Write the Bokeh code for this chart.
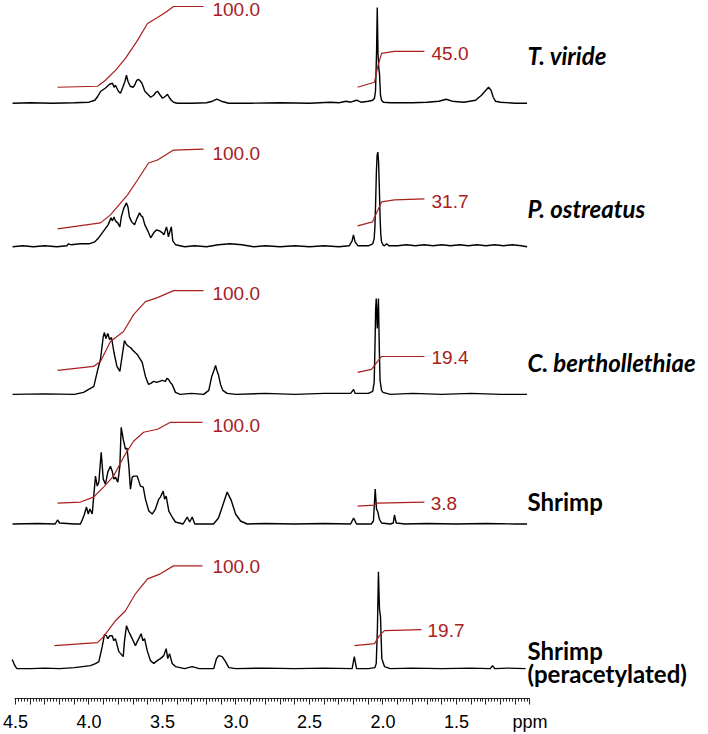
from bokeh.plotting import figure
from bokeh.models import Range1d, FixedTicker
from bokeh.core.properties import value
from bokeh.embed import file_html
from bokeh.resources import INLINE

# ---------------- data ----------------
# chemical shift (ppm) and signal height above each trace's baseline
tv_ppm = [4.52, 4.40, 4.25, 4.10, 4.00, 3.96, 3.94, 3.92, 3.89, 3.86, 3.84, 3.83, 3.82, 3.80, 3.786,
          3.77, 3.755, 3.745, 3.735, 3.72, 3.70, 3.69, 3.675, 3.663, 3.65, 3.64, 3.62, 3.60, 3.58,
          3.56, 3.545, 3.534, 3.52, 3.50, 3.48, 3.466, 3.455, 3.44, 3.425, 3.40, 3.30, 3.20, 3.16,
          3.13, 3.10, 3.05, 2.90, 2.70, 2.50, 2.36, 2.30, 2.25, 2.22, 2.18, 2.15, 2.10, 2.07, 2.058,
          2.051, 2.044, 2.039, 2.034, 2.029, 2.024, 2.017, 2.01, 1.997, 1.95, 1.80, 1.70, 1.62, 1.57,
          1.53, 1.45, 1.37, 1.33, 1.30, 1.282, 1.265, 1.25, 1.235, 1.20, 1.10, 1.02]
tv_int = [0, 0.5, 0, 0.5, 1, 3, 7, 12, 15, 19, 20, 16, 18, 12, 10,
          16, 22, 28, 22, 17, 16, 18, 23, 24, 22, 20, 12, 9, 6,
          8, 11, 12, 9, 5, 7, 9, 6, 3, 1, 0, 0, 0.5, 2,
          4, 2, 0, 0, 0.5, 0, 1, 0.5, 2, 1, 3, 1, 2, 3, 5,
          12, 50, 96, 50, 36, 30, 8, 3, 1, 0.5, 0.5, 1, 2, 4,
          2, 1, 3, 8, 13, 16, 13, 6, 2, 1, 0, 0]

po_ppm = [4.52, 4.45, 4.38, 4.30, 4.22, 4.15, 4.139, 4.12, 4.06, 4.00, 3.96, 3.94, 3.92, 3.90,
          3.87, 3.85, 3.84, 3.83, 3.82, 3.805, 3.79, 3.78, 3.765, 3.745, 3.735, 3.725, 3.71, 3.69,
          3.675, 3.656, 3.645, 3.635, 3.62, 3.60, 3.58, 3.56, 3.54, 3.52, 3.50, 3.49, 3.473, 3.466,
          3.46, 3.45, 3.44, 3.43, 3.41, 3.35, 3.28, 3.20, 3.12, 3.04, 2.96, 2.88, 2.80, 2.70, 2.60,
          2.50, 2.40, 2.30, 2.23, 2.21, 2.201, 2.19, 2.17, 2.10, 2.07, 2.06, 2.055, 2.05, 2.045,
          2.04, 2.035, 2.03, 2.025, 2.02, 2.015, 2.01, 2.00, 1.99, 1.975, 1.96, 1.90, 1.84, 1.78,
          1.72, 1.66, 1.60, 1.54, 1.48, 1.42, 1.36, 1.30, 1.24, 1.18, 1.12, 1.06, 1.02]
po_int = [0, 1, 0, 1, 0, 1, 3, 2, 3, 3, 5, 8, 12, 16,
          22, 29, 26, 30, 26, 24, 20, 30, 38, 44, 40, 30, 25, 22,
          28, 34, 31, 30, 22, 16, 9, 14, 17, 16, 14, 12, 20, 16,
          10, 15, 20, 6, 2, 0, 1, 0, 2, 3, 2, 0, 1, 0, 1,
          0, 1, 0, 1, 6, 12, 5, 1, 1, 3, 8, 20, 45, 75,
          92, 95, 85, 60, 30, 12, 5, 2, 1, 3, 1, 1, 2, 1,
          2, 1, 2, 1, 2, 1, 2, 1, 2, 1, 2, 1, 0]

cb_ppm = [4.52, 4.30, 4.10, 4.037, 3.967, 3.94, 3.922, 3.903, 3.895, 3.885, 3.872, 3.86, 3.847,
          3.83, 3.81, 3.79, 3.775, 3.759, 3.745, 3.73, 3.718, 3.70, 3.672, 3.655, 3.638, 3.616,
          3.595, 3.58, 3.56, 3.54, 3.52, 3.50, 3.48, 3.47, 3.459, 3.447, 3.434, 3.412, 3.38, 3.30,
          3.22, 3.185, 3.165, 3.15, 3.139, 3.13, 3.12, 3.105, 3.09, 3.06, 3.00, 2.80, 2.60, 2.40,
          2.22, 2.20, 2.19, 2.10, 2.07, 2.06, 2.055, 2.05, 2.046, 2.039, 2.031, 2.025, 2.02, 2.01,
          2.00, 1.95, 1.80, 1.60, 1.40, 1.20, 1.02]
cb_int = [0, 0.5, 0, 2, 8, 25, 35, 58, 62, 56, 61, 55, 57,
          42, 28, 23, 38, 54, 50, 48, 47, 44, 40, 36, 32, 18,
          10, 11, 13, 12, 13, 14, 13, 16, 15, 12, 10, 2, 0, 1,
          0, 4, 18, 24, 29, 24, 20, 10, 4, 1, 0, 1, 0, 1,
          1, 5, 1, 1, 3, 12, 45, 85, 96, 66, 96, 45, 14, 4,
          2, 0, 1, 0, 1, 0, 0]

sh_ppm = [4.52, 4.35, 4.23, 4.214, 4.20, 4.10, 4.058, 4.035, 4.017, 4.005, 3.994, 3.978, 3.956,
          3.944, 3.933, 3.917, 3.903, 3.888, 3.872, 3.854, 3.842, 3.831, 3.82, 3.804, 3.79, 3.781,
          3.767, 3.752, 3.741, 3.729, 3.718, 3.706, 3.695, 3.672, 3.65, 3.631, 3.616, 3.593, 3.57,
          3.548, 3.525, 3.514, 3.495, 3.486, 3.475, 3.457, 3.434, 3.412, 3.36, 3.332, 3.315, 3.298,
          3.28, 3.20, 3.153, 3.119, 3.087, 3.06, 3.033, 3.003, 2.969, 2.924, 2.80, 2.60, 2.40,
          2.22, 2.20, 2.18, 2.08, 2.065, 2.053, 2.044, 2.035, 2.025, 2.01, 1.95, 1.93, 1.922, 1.91,
          1.85, 1.70, 1.50, 1.30, 1.10, 1.02]
sh_int = [0, 0.5, 0, 4, 1, 0, 0, 8, 17, 10, 15, 10, 48,
          38, 42, 72, 45, 40, 52, 58, 53, 45, 47, 42, 58, 97,
          85, 75, 76, 58, 35, 47, 48, 48, 38, 37, 25, 13, 10,
          15, 25, 27, 33, 25, 28, 13, 7, 2, 0, 7, 2, 7,
          0, 0, 0, 6, 20, 32, 24, 10, 3, 0, 0.5, 0, 0.5,
          0, 6, 0, 0, 3, 35, 15, 12, 5, 1, 0, 1, 9, 1,
          0, 0.5, 0, 0.5, 0, 0]

sp_ppm = [4.522, 4.511, 4.50, 4.49, 4.40, 4.30, 4.20, 4.10, 3.99, 3.956, 3.933, 3.91, 3.895,
          3.881, 3.872, 3.858, 3.842, 3.831, 3.82, 3.797, 3.767, 3.759, 3.745, 3.729, 3.706,
          3.684, 3.672, 3.661, 3.645, 3.634, 3.622, 3.604, 3.582, 3.559, 3.536, 3.514, 3.491,
          3.475, 3.464, 3.452, 3.434, 3.412, 3.35, 3.298, 3.25, 3.151, 3.133, 3.117, 3.094, 3.071,
          3.049, 3.00, 2.80, 2.60, 2.40, 2.21, 2.195, 2.18, 2.10, 2.055, 2.046, 2.038, 2.031,
          2.024, 2.017, 2.008, 1.99, 1.95, 1.80, 1.60, 1.40, 1.27, 1.255, 1.24, 1.15, 1.03]
sp_int = [9, 5, 2, 0, 0, 0.5, 0, 1, 3, 5, 7, 22, 34,
          33, 30, 33, 33, 28, 30, 17, 12, 27, 43, 37, 30,
          23, 27, 30, 35, 28, 30, 18, 8, 5, 8, 10, 13,
          20, 10, 15, 5, 2, 0, 2, 0, 0, 10, 13, 12, 7,
          1, 0, 0.5, 0, 0.5, 0, 12, 0, 0, 1, 5, 40, 97,
          60, 52, 10, 2, 0, 0.5, 0, 0.5, 0, 3, 0, 0.5, 0]

# integral traces (ppm, height above baseline)
int_ppm = [[4.214, 3.942, 3.888, 3.820, 3.752, 3.670, 3.602, 3.534, 3.480, 3.425, 3.221],
           [4.214, 3.922, 3.854, 3.738, 3.670, 3.595, 3.534, 3.425, 3.221],
           [4.214, 3.969, 3.922, 3.854, 3.765, 3.697, 3.616, 3.534, 3.425, 3.221],
           [4.214, 4.058, 3.969, 3.901, 3.833, 3.765, 3.697, 3.629, 3.534, 3.446, 3.228],
           [4.235, 3.942, 3.901, 3.820, 3.752, 3.684, 3.602, 3.514, 3.425, 3.228]]
int_val = [[16, 17, 23, 33, 45, 63, 80, 86, 91, 97, 97],
           [18, 24, 32, 52, 67, 84, 87, 97, 98],
           [24, 28, 33, 53, 63, 80, 93, 97, 104, 104],
           [21, 22, 27, 37, 48, 67, 83, 92, 95, 102, 102],
           [23, 26, 32, 48, 58, 75, 90, 95, 103, 103]]
ac_ppm = [[2.173, 2.058, 2.037, 2.010, 1.922, 1.718],
          [2.173, 2.071, 2.044, 2.010, 1.922, 1.718],
          [2.173, 2.078, 2.037, 2.010, 1.718],
          [2.173, 2.058, 2.037, 1.718],
          [2.194, 2.058, 2.024, 1.990, 1.738]]
ac_val = [[16, 21, 36, 50, 52, 52],
          [21, 25, 34, 45, 47, 48],
          [22, 25, 33, 38, 38],
          [18, 19, 21, 22],
          [23, 25, 33, 38, 39]]

names = ["T. viride", "P. ostreatus", "C. berthollethiae", "Shrimp", "Shrimp"]
sub_name = "(peracetylated)"
big_labels = ["100.0", "100.0", "100.0", "100.0", "100.0"]
small_labels = ["45.0", "31.7", "19.4", "3.8", "19.7"]
offsets = [597, 453, 305, 175, 30]           # baseline of each stacked trace
big_label_h = [94, 94, 101, 99, 102]
small_label_h = [50, 45, 37, 21, 38]
name_h = [48, 38, 32, 23, 18]
sub_name_h = -5

tick_values = [4.5, 4.0, 3.5, 3.0, 2.5, 2.0, 1.5, 1.0]
tick_labels = ["4.5", "4.0", "3.5", "3.0", "2.5", "2.0", "1.5", "ppm"]

# ---------------- figure ----------------
RED = "#A8201E"
p = figure(width=708, height=734, output_backend="svg", toolbar_location=None,
           x_range=Range1d(4.602, -0.2143), y_range=Range1d(0, 700),
           y_axis_location=None, min_border=0)
p.grid.visible = False
p.outline_line_color = None
p.background_fill_color = "white"

spectra = [(tv_ppm, tv_int), (po_ppm, po_int), (cb_ppm, cb_int), (sh_ppm, sh_int), (sp_ppm, sp_int)]
for k, (xs, ys) in enumerate(spectra):
    p.line(xs, [offsets[k] + v for v in ys], line_color="black", line_width=1.4)
    p.line(int_ppm[k], [offsets[k] + v for v in int_val[k]], line_color=RED, line_width=1.2)
    p.line(ac_ppm[k], [offsets[k] + v for v in ac_val[k]], line_color=RED, line_width=1.2)

p.text(x=[3.16] * 5, y=[offsets[k] + big_label_h[k] for k in range(5)], text=big_labels,
       text_font=value("Liberation Sans"), text_font_size="19px", text_color=RED,
       text_baseline="middle", text_align="left")
p.text(x=[1.67, 1.67, 1.67, 1.675, 1.697], y=[offsets[k] + small_label_h[k] for k in range(5)],
       text=small_labels, text_font=value("Liberation Sans"), text_font_size="19px",
       text_color=RED, text_baseline="middle", text_align="left")

p.text(x=[1.017] * 3, y=[offsets[k] + name_h[k] for k in range(3)], text=names[:3],
       text_font=value("Lato"), text_font_size="24px", text_font_style="bold italic",
       text_color="black", text_baseline="middle", text_align="left")
p.text(x=[1.017] * 2, y=[offsets[k] + name_h[k] for k in (3, 4)], text=names[3:],
       text_font=value("Lato"), text_font_size="24px", text_font_style="bold",
       text_color="black", text_baseline="middle", text_align="left")
p.text(x=[1.017], y=[offsets[4] + sub_name_h], text=[sub_name],
       text_font=value("Lato"), text_font_size="24px", text_font_style="bold",
       text_color="black", text_baseline="middle", text_align="left")

# ruler axis
major = [round(1.0 + 0.1 * i, 1) for i in range(36)]
minor = [round(1.0 + 0.02 * i, 2) for i in range(176)]
ax = p.xaxis[0]
ax.ticker = FixedTicker(ticks=major, minor_ticks=minor)
overrides = {t: "" for t in major}
for t, lab in zip(tick_values, tick_labels):
    overrides[t] = lab
ax.major_label_overrides = overrides
ax.bounds = (1.0, 4.51)
ax.axis_line_color = "#222222"
ax.major_tick_line_color = "#222222"
ax.minor_tick_line_color = "#222222"
ax.major_tick_out = 6
ax.major_tick_in = 0
ax.minor_tick_out = 3
ax.minor_tick_in = 0
ax.major_label_standoff = 7
ax.major_label_text_font = "Liberation Sans"
ax.major_label_text_font_size = "18px"
ax.major_label_text_color = "black"

open("out.html", "w").write(file_html(p, INLINE))
